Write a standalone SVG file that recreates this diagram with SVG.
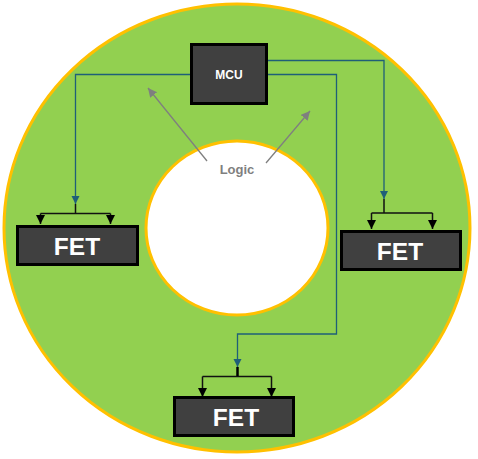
<svg xmlns="http://www.w3.org/2000/svg" width="478" height="459" viewBox="0 0 478 459">
<style>
.box{fill:#404040;stroke:#000;stroke-width:3}
.lbl{fill:#fff;font-family:"Liberation Sans",Arial,sans-serif;font-weight:bold;text-anchor:middle}
.wire{fill:none;stroke:#1F5F78;stroke-width:1.3}
.bar{fill:none;stroke:#111;stroke-width:1.5}
.garrow{fill:none;stroke:#7F7F7F;stroke-width:1.3}
</style>
<defs>
<marker id="teal" markerWidth="10" markerHeight="10" refX="8" refY="4" orient="auto" markerUnits="userSpaceOnUse">
<path d="M0,0 L8,4 L0,8 Z" fill="#1F5F78"/>
</marker>
<marker id="blk" markerWidth="12" markerHeight="12" refX="9" refY="4.5" orient="auto" markerUnits="userSpaceOnUse">
<path d="M0,0 L9,4.5 L0,9 Z" fill="#000"/>
</marker>
<marker id="gry" markerWidth="12" markerHeight="12" refX="9" refY="4.5" orient="auto" markerUnits="userSpaceOnUse">
<path d="M0,0 L9,4.5 L0,9 Z" fill="#7F7F7F"/>
</marker>
</defs>
<g id="ring">
<ellipse cx="237" cy="228" rx="233" ry="224" fill="#92D050" stroke="#FFC000" stroke-width="3"/>
<ellipse cx="237" cy="228" rx="91" ry="87" fill="#fff" stroke="#FFC000" stroke-width="3"/>
</g>
<g id="connectors">
<path class="wire" d="M191,74.5 H75.5 V204" marker-end="url(#teal)"/>
<path class="wire" d="M267,60.5 H384 V199" marker-end="url(#teal)"/>
<path class="wire" d="M267,74.5 H336.5 V334 H237.5 V367" marker-end="url(#teal)"/>
<path class="bar" d="M75.5,204 V213.5 M40.5,213.5 H110.5"/>
<path class="bar" d="M40.5,213.5 V224" marker-end="url(#blk)"/>
<path class="bar" d="M110.5,213.5 V224" marker-end="url(#blk)"/>
<path class="bar" d="M384,199 V213 M371.5,213 H432.5"/>
<path class="bar" d="M371.5,213 V229" marker-end="url(#blk)"/>
<path class="bar" d="M432.5,213 V229" marker-end="url(#blk)"/>
<path class="bar" d="M202.5,376.5 H271.5"/>
<path d="M237.5,367 V376" stroke="#000" stroke-width="2.5"/>
<path class="bar" d="M202.5,376.5 V397" marker-end="url(#blk)"/>
<path class="bar" d="M271.5,376.5 V397" marker-end="url(#blk)"/>
<path class="garrow" d="M207,161 L148,88" marker-end="url(#gry)"/>
<path class="garrow" d="M266,163 L310,111" marker-end="url(#gry)"/>
</g>
<g id="mcu">
<rect class="box" x="191.5" y="44.5" width="75" height="59"/>
<text class="lbl" x="229" y="79" font-size="12">MCU</text>
</g>
<g id="logic">
<text x="237" y="173.5" font-family="'Liberation Sans',Arial,sans-serif" font-weight="bold" font-size="13" fill="#7F7F7F" text-anchor="middle">Logic</text>
</g>
<g id="fet-left">
<rect class="box" x="17.5" y="226.5" width="120" height="38"/>
<text class="lbl" x="77" y="255" font-size="24.5">FET</text>
</g>
<g id="fet-right">
<rect class="box" x="341.5" y="231.5" width="119" height="38"/>
<text class="lbl" x="400" y="260" font-size="24.5">FET</text>
</g>
<g id="fet-bottom">
<rect class="box" x="174.5" y="397.5" width="119" height="38"/>
<text class="lbl" x="236" y="426" font-size="24.5">FET</text>
</g>
</svg>
